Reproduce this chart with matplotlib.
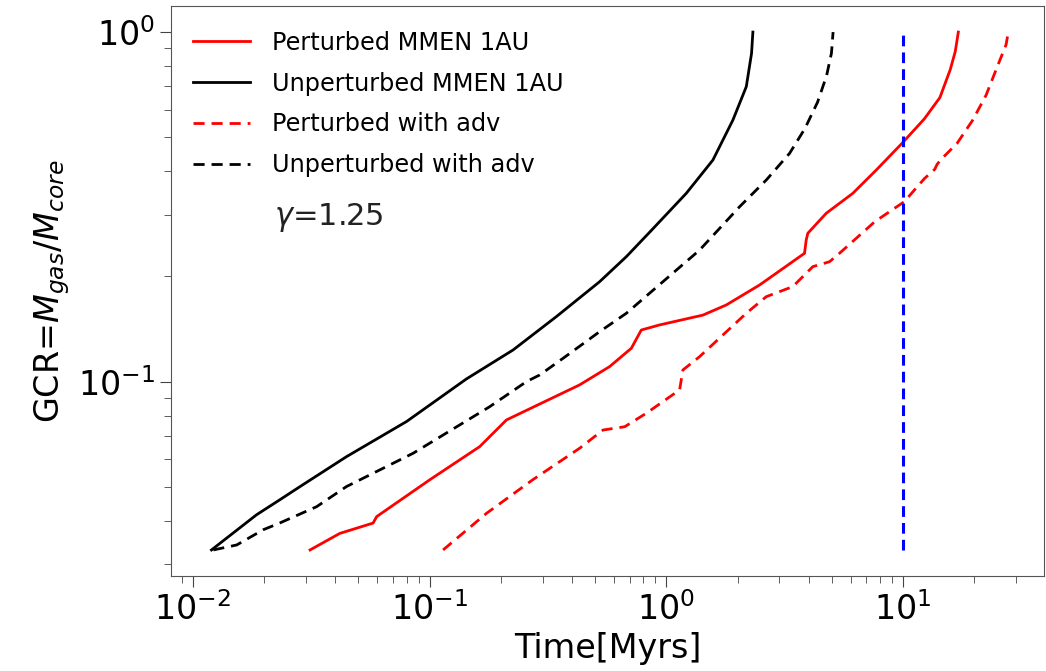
import matplotlib
matplotlib.use('Agg')
import matplotlib.pyplot as plt

# Perturbed MMEN 1AU (solid red)
t_pert = [0.0313, 0.0418, 0.0578, 0.0598, 0.1003, 0.163, 0.2113, 0.4306, 0.576, 0.7117,
          0.784, 0.937, 1.427, 1.791, 2.476, 3.833, 3.896, 3.958, 4.732, 6.13,
          7.7, 9.96, 12.3, 14.3, 15.8, 16.6, 17.1]
gcr_pert = [0.033, 0.0368, 0.0394, 0.0411, 0.0524, 0.0652, 0.0777, 0.0979, 0.1104, 0.1246,
            0.1405, 0.1453, 0.155, 0.1657, 0.189, 0.2329, 0.2542, 0.2657, 0.3031, 0.3457,
            0.403, 0.483, 0.565, 0.65, 0.78, 0.88, 1.0]

# Unperturbed MMEN 1AU (solid black)
t_unpert = [0.012, 0.0186, 0.0233, 0.0284, 0.0446, 0.08, 0.1432, 0.2254, 0.3434, 0.523,
            0.678, 0.87, 1.214, 1.573, 1.91, 2.176, 2.29, 2.32]
gcr_unpert = [0.033, 0.0416, 0.0459, 0.0501, 0.061, 0.0769, 0.1018, 0.1232, 0.1535, 0.1932,
              0.2278, 0.272, 0.3457, 0.4305, 0.56, 0.698, 0.869, 1.0]

# Perturbed with adv (dashed red)
t_pert_adv = [0.1141, 0.174, 0.2729, 0.4306, 0.54, 0.667, 0.823, 1.138, 1.175, 1.382,
              2.176, 2.642, 3.42, 4.156, 4.887, 5.385, 7.6, 10.1, 12.3, 13.6,
              13.9, 14.4, 16.9, 19.67, 22.4, 25.3, 27.2, 27.8]
gcr_pert_adv = [0.033, 0.042, 0.0524, 0.0645, 0.0727, 0.0743, 0.0812, 0.0947, 0.108, 0.1179,
                0.1569, 0.175, 0.187, 0.2133, 0.2203, 0.2329, 0.287, 0.327, 0.381, 0.405,
                0.418, 0.431, 0.4806, 0.56, 0.66, 0.814, 0.92, 1.0]

# Unperturbed with adv (dashed black)
t_unpert_adv = [0.01222, 0.01534, 0.01986, 0.0233, 0.0334, 0.0446, 0.0853, 0.1796, 0.2566, 0.292,
                0.3663, 0.523, 0.678, 1.382, 2.039, 2.642, 3.314, 3.85, 4.35, 4.75, 4.98, 5.06]
gcr_unpert_adv = [0.033, 0.0341, 0.0377, 0.0394, 0.0439, 0.0501, 0.0624, 0.0848, 0.1, 0.1045,
                  0.1166, 0.139, 0.1569, 0.2379, 0.3165, 0.3773, 0.4498, 0.53, 0.63, 0.75, 0.87, 1.0]

t_mark = 10
gcr_mark = [0.033, 1.0]

fig = plt.figure(figsize=(10.46, 6.71), dpi=100)
ax = fig.add_axes([0.1635, 0.1416, 0.8345, 0.8494])

ax.plot(t_pert, gcr_pert, color='red', lw=2, label='Perturbed MMEN 1AU')
ax.plot(t_unpert, gcr_unpert, color='black', lw=2, label='Unperturbed MMEN 1AU')
ax.plot(t_pert_adv, gcr_pert_adv, color='red', lw=2, ls=(0, (4, 2.5)), label='Perturbed with adv')
ax.plot(t_unpert_adv, gcr_unpert_adv, color='black', lw=2, ls=(0, (4, 2.5)), label='Unperturbed with adv')
ax.plot([t_mark, t_mark], gcr_mark, color='blue', lw=2.2, ls=(0, (3.5, 2)))

ax.set_xscale('log')
ax.set_yscale('log')
ax.set_xlim(0.0081, 39.3)
ax.set_ylim(0.0278, 1.187)

ax.set_xlabel('Time[Myrs]', fontsize=24)
ax.set_ylabel(r'GCR=$M_{gas}/M_{core}$', fontsize=24)
ax.tick_params(which='major', labelsize=24, length=8, color='#444444')
ax.tick_params(which='minor', length=5, color='#444444')
for s in ax.spines.values():
    s.set_color('#555555')

leg = ax.legend(loc='upper left', bbox_to_anchor=(0.0057, 0.986), fontsize=17.3,
                frameon=False, handlelength=2.4, labelspacing=0.7,
                borderaxespad=0.3, handletextpad=0.9)
ax.text(0.118, 0.629, r'$\gamma$=1.25', transform=ax.transAxes, fontsize=22,
        color='#222222', va='center')

fig.savefig('out.png', dpi=100)
